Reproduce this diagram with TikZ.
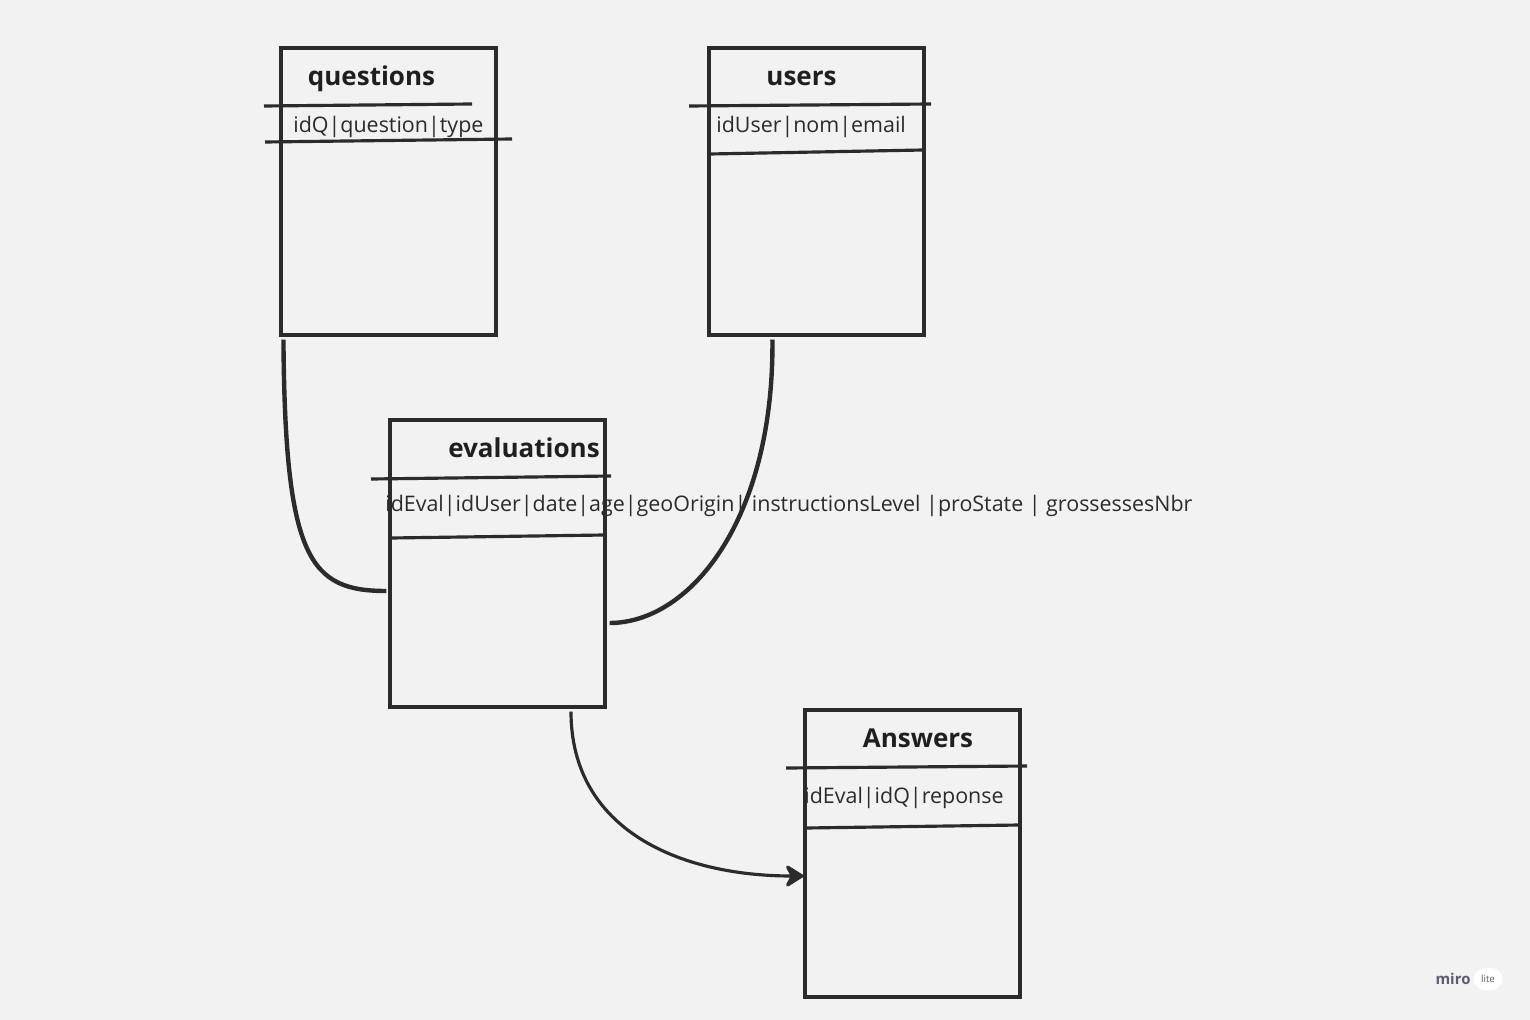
\documentclass[tikz,border=0pt]{standalone}
\usepackage{fontspec}
\setmainfont{Open Sans}
\usetikzlibrary{arrows.meta}

\definecolor{ink}{HTML}{2B2B2B}
\definecolor{paper}{HTML}{F2F2F2}
\definecolor{mirogray}{HTML}{5C5C6E}

\begin{document}
\begin{tikzpicture}[x=0.02cm,y=-0.02cm,
  table/.style={draw=ink, line width=1.8pt, minimum width=4.3cm, minimum height=5.74cm, inner sep=0pt},
  title/.style={font=\fontsize{14.8}{16}\selectfont\bfseries, text=black!88, anchor=base, inner sep=0pt},
  fields/.style={font=\fontsize{12.2}{14}\selectfont, text=ink, anchor=base west, inner sep=0pt},
  rule/.style={ink, line width=1.8pt},
  link/.style={ink, line width=2.5pt}]

\fill[paper] (0,0) rectangle (1530,1020);

% tables
\node[table] (questions) at (388.5,191.5) {};
\node[table] (users) at (816.5,191.5) {};
\node[table] (evaluations) at (497.5,563.5) {};
\node[table] (answers) at (912.5,853.5) {};

\node[title] (questions-title) at (371.5,86) {questions};
\node[title] (users-title) at (801.5,86) {users};
\node[title] (evaluations-title) at (524,457) {evaluations};
\node[title] (answers-title) at (918,747) {Answers};

\node[fields] (questions-fields) at (293,133) {idQ|question|type};
\node[fields] (users-fields) at (716,133) {idUser|nom|email};
\node[fields] (evaluations-fields) at (385,511) {idEval|idUser|date|age|geoOrigin| instructionsLevel |proState | grossessesNbr};
\node[fields] (answers-fields) at (804,803) {idEval|idQ|reponse};

\draw[rule] (264,106) -- (472,104);
\draw[rule] (265,142) -- (512,139);
\draw[rule] (689,106) -- (931,104);
\draw[rule] (710,154) -- (923,150);
\draw[rule] (371,479) -- (611,476);
\draw[rule] (391,538) -- (604,535);
\draw[rule] (786,768) -- (1027,766);
\draw[rule] (806,828) -- (1019,825);

% links
\draw[link] ([xshift=0.08cm,yshift=-0.06cm]questions.south west) .. controls (285,560) and (310,591) .. ([xshift=-0.04cm,yshift=-0.55cm]evaluations.west);
\draw[link] ([xshift=1.3cm,yshift=-0.06cm]users.south west) .. controls (774,520) and (690,623) .. ([xshift=0.06cm,yshift=-1.19cm]evaluations.east);
\draw[ink, line width=1.8pt, -{Stealth[length=12pt,width=15pt,round]}] ([xshift=1.47cm,yshift=-0.06cm]evaluations.south) .. controls (571,830) and (680,876) .. ([yshift=-0.45cm]answers.west);

% watermark
\node[font=\fontsize{8.5}{9}\selectfont\bfseries, text=mirogray, inner sep=0pt] (miro) at (1453,979) {miro};
\node[fill=white, rounded corners=0.22cm, minimum width=0.58cm, minimum height=0.44cm, inner sep=0pt, font=\fontsize{5.5}{6}\selectfont, text=mirogray] (lite) at (1488,979) {lite};

\end{tikzpicture}
\end{document}
